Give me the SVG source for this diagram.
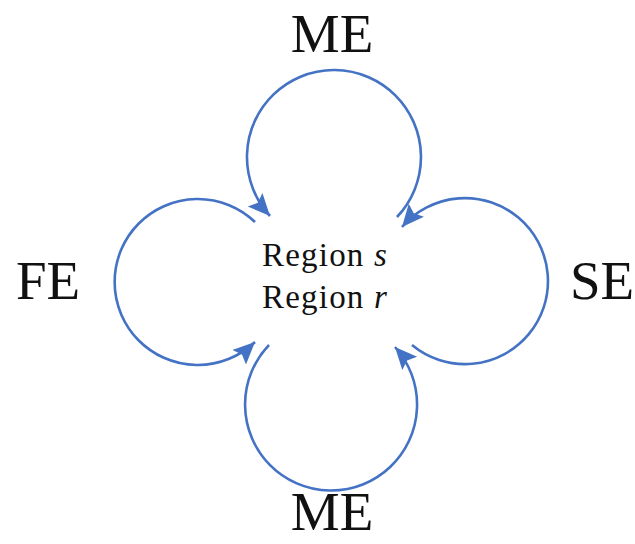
<svg xmlns="http://www.w3.org/2000/svg" width="635" height="544" viewBox="0 0 635 544">
<style>
.lbl{font-family:"Liberation Serif","Times New Roman",serif;fill:#111;}
.big{font-size:55px;}
.reg{font-size:33px;letter-spacing:1.2px;}
.arc{fill:none;stroke:#4472C4;stroke-width:2.6;}
</style>
<defs>
<marker id="ah" markerUnits="userSpaceOnUse" markerWidth="26" markerHeight="22" refX="22" refY="10" orient="auto">
<path d="M0,0 L22,10 L0,20 L4,10 z" fill="#4472C4"/>
</marker>
</defs>
<rect width="635" height="544" fill="#fff"/>
<g id="connectors">
<path class="arc" marker-end="url(#ah)" d="M397,217 A87,87 0 1 0 270,216"/>
<path class="arc" marker-end="url(#ah)" d="M255,222 A83,83 0 1 0 255,342"/>
<path class="arc" marker-end="url(#ah)" d="M412,345 A83,83 0 1 0 402,227"/>
<path class="arc" marker-end="url(#ah)" d="M269,345 A86,86 0 1 0 395,347"/>
</g>
<g id="node-me-top"><text class="lbl big" x="332" y="52" text-anchor="middle">ME</text></g>
<g id="node-fe"><text class="lbl big" x="48" y="299" text-anchor="middle">FE</text></g>
<g id="node-se"><text class="lbl big" x="570" y="299">SE</text></g>
<g id="node-me-bottom"><text class="lbl big" x="332" y="530" text-anchor="middle">ME</text></g>
<g id="node-regions">
<text class="lbl reg" x="262" y="266">Region <tspan font-style="italic">s</tspan></text>
<text class="lbl reg" x="262" y="308">Region <tspan font-style="italic">r</tspan></text>
</g>
</svg>
